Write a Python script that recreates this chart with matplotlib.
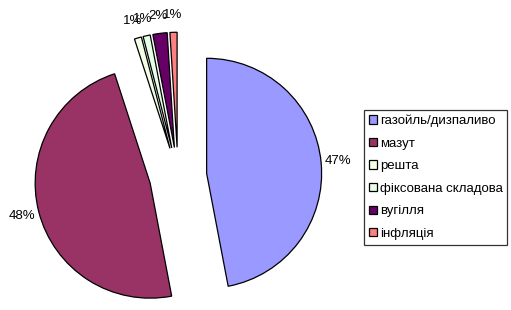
import matplotlib
matplotlib.use("Agg")
import matplotlib.pyplot as plt

categories = ["газойль/дизпаливо", "мазут", "решта", "фіксована складова", "вугілля", "інфляція"]
values = [47, 48, 1, 1, 2, 1]
colors = ["#9999FF", "#993366", "#F2FFE6", "#E6FFE6", "#660066", "#FF8080"]

W, H = 511, 310
fig = plt.figure(figsize=(W / 100, H / 100), dpi=100)
ax = fig.add_axes([0, 0, 1, 1])

cx, cy, r = 178, 176, 115  # pixel centre and radius

wedges, texts, autotexts = ax.pie(
    values,
    colors=colors,
    startangle=90,
    counterclock=False,
    explode=[0.25] * len(values),
    autopct=lambda p: f"{p:.0f}%",
    pctdistance=1.15,
    wedgeprops=dict(edgecolor="black", linewidth=0.9),
    textprops=dict(fontsize=9.5, family="Liberation Sans"),
)

ax.set_aspect("auto")
ax.set_xlim(-cx / r, (W - cx) / r)
ax.set_ylim(-(H - cy) / r, cy / r)
ax.axis("off")

leg = ax.legend(
    wedges, categories,
    loc="upper left",
    bbox_to_anchor=(364 / W, 1 - 110 / H),
    bbox_transform=fig.transFigure,
    prop=dict(family="Liberation Sans", size=9.5),
    frameon=True, fancybox=False,
    edgecolor="black",
    handlelength=0.6, handleheight=0.6, handletextpad=0.25,
    labelspacing=0.8, borderpad=0.35, borderaxespad=0,
)
leg.get_frame().set_linewidth(0.9)

fig.savefig("out.png", dpi=100)
